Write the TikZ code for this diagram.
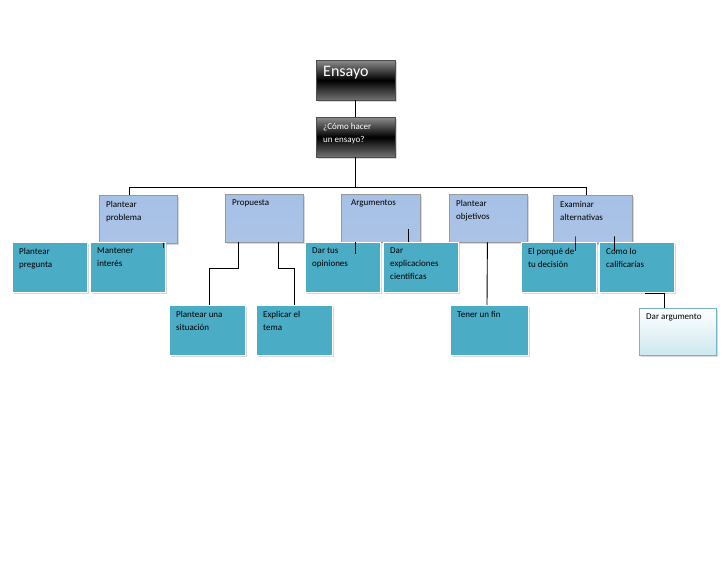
\documentclass[tikz,border=0pt]{standalone}
\usepackage{fontspec}
\setmainfont{Carlito}
\usetikzlibrary{shadows,calc}
\definecolor{teal1}{HTML}{4BACC6}
\definecolor{bluetop}{HTML}{A7C0E6}
\definecolor{bluemid}{HTML}{4F81BD}
\definecolor{bluebot}{HTML}{AAC3E6}
\definecolor{whtbot}{HTML}{CDE8F0}
\definecolor{whtdraw}{HTML}{78B4C8}
\tikzset{
  base/.style={anchor=north west, inner sep=0pt, drop shadow={shadow xshift=1.5pt,shadow yshift=-1.5pt,fill=black!30}},
  blk/.style={base, draw=black!70, top color=black!45, bottom color=black!55, middle color=black},
  blu/.style={base, draw=black!40, top color=bluetop, middle color=bluemid, bottom color=bluebot},
  tea/.style={base, draw=white, line width=1pt, fill=teal1},
  wht/.style={base, draw=whtdraw, top color=white, bottom color=whtbot},
  txt/.style={anchor=north west, align=left, inner sep=0pt, font=\fontsize{9}{13}\selectfont},
  con/.style={draw=black, line width=0.9pt}
}
\newcommand{\bx}[8]{%
  \node[#6, minimum width=#4pt-#2pt, minimum height=#5pt-#3pt] (#1) at (#2,#3) {};
  \node[txt,#8] (#1t) at ([xshift=7pt,yshift=-6pt]#1.north west) {#7};}
\begin{document}
\begin{tikzpicture}[x=1pt,y=-1pt]
\useasboundingbox[fill=white] (0,0) rectangle (728,563);
\bx{ens}{316}{60}{395}{100}{blk}{Ensayo}{text=white,font=\fontsize{16}{18}\selectfont}
\bx{como}{316}{117}{395}{157}{blk}{¿Cómo hacer\\un ensayo?}{text=white}
\bx{prob}{99}{195}{177}{243}{blu}{Plantear\\problema}{}
\bx{prop}{225}{194}{303}{242}{blu}{Propuesta}{}
\bx{arg}{341}{194}{420}{242}{blu}{\hspace*{3pt}Argumentos}{}
\bx{obj}{449}{194}{527}{242}{blu}{Plantear\\objetivos}{}
\bx{exa}{553}{195}{632}{243}{blu}{Examinar\\alternativas}{}
\bx{preg}{12}{242}{87}{292}{tea}{Plantear\\pregunta}{}
\bx{mant}{90}{242}{165}{292}{tea}{Mantener\\interés}{}
\bx{opi}{305}{242}{380}{292}{tea}{Dar tus\\opiniones}{}
\bx{expl}{383}{242}{458}{292}{tea}{Dar\\explicaciones\\cientificas}{}
\bx{porq}{521}{242}{596}{292}{tea}{El porqué de\\tu decisión}{}
\bx{cal}{599}{242}{674}{292}{tea}{Como lo\\calificarías}{}
\bx{sit}{169}{305}{245}{355}{tea}{Plantear una\\situación}{}
\bx{tema}{256}{305}{332}{355}{tea}{Explicar el\\tema}{}
\bx{fin}{450}{305}{528}{355}{tea}{Tener un fin}{}
\bx{darg}{639}{308}{716}{355}{wht}{Dar argumento}{}
% connectors
\draw[con] (ens.south) -- (como.north);
\coordinate (bl) at (129,187); \coordinate (br) at (586,187);
\draw[con] (como.south) -- (como.south |- bl);
\draw[con] ([yshift=-8pt]bl) -- (bl) -- (br) -- ([yshift=-8pt]br);
\draw[con] ([xshift=-14pt]prob.south east) -- ++(0,5);
\draw[con] ([xshift=13pt]prop.south west) -- ++(0,26) -| ([xshift=40pt]sit.north west);
\draw[con] ([xshift=-25pt]prop.south east) -- ++(0,26) -| ([xshift=-39pt]tema.north east);
\draw[con] ([xshift=14pt]arg.south west) -- ++(0,12);
\draw[con] ([xshift=-12pt]arg.south east) -- ++(0,-13);
\draw[con] ([xshift=-40pt]obj.south east) -- ([xshift=37pt]fin.north west);
\draw[con] ([xshift=22pt]exa.south west) -- ++(0,-7) -- ++(0,15);
\draw[con] ([xshift=-18pt]exa.south east) -- ++(0,-7) -- ++(0,15);
\draw[con] ([xshift=46pt]cal.south west) -| ([xshift=25pt]darg.north west);
\end{tikzpicture}
\end{document}
